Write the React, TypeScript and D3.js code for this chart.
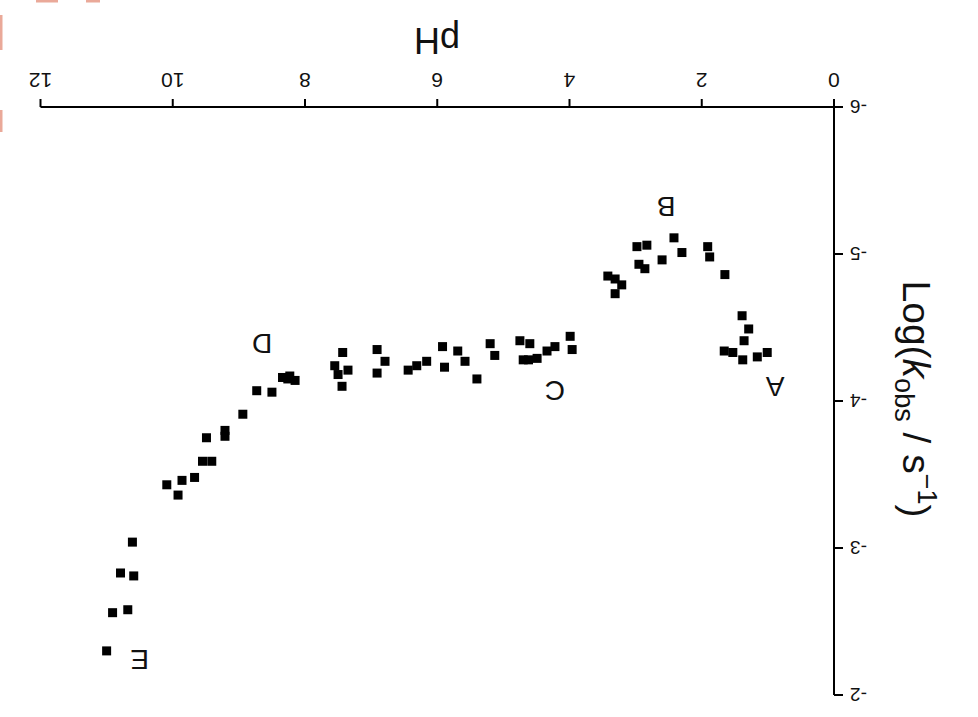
import React from "react";
import * as d3 from "d3";

const phValues = [
  2.42, 2.98, 2.83, 2.30, 2.60, 1.91, 1.88, 1.65, 2.95, 2.86, 3.42, 3.31, 3.21, 3.31,
  1.39, 1.29, 1.36, 1.66, 1.53, 1.38, 1.16, 1.01,
  8.73, 8.50, 8.34, 8.23, 8.15, 8.26, 7.55, 7.43, 7.35, 7.44, 6.91, 6.79, 6.91,
  6.44, 6.31, 6.16, 5.92, 5.69, 5.58, 5.89, 5.40, 5.20, 5.13, 4.75, 4.60, 4.70,
  4.49, 4.34, 4.22, 3.99, 3.96, 4.62, 7.50,
  8.94, 9.21, 9.21, 9.49, 9.55, 9.41, 9.67, 10.09, 9.86, 9.92,
  10.61, 10.79, 10.59, 10.91, 10.68, 11.00,
];
const logkValues = [
  -5.11, -5.05, -5.06, -5.01, -4.96, -5.05, -4.98, -4.86, -4.93, -4.90, -4.85, -4.83, -4.79, -4.73,
  -4.58, -4.49, -4.41, -4.34, -4.33, -4.28, -4.30, -4.33,
  -4.07, -4.06, -4.16, -4.17, -4.14, -4.15, -4.24, -4.33, -4.21, -4.10, -4.35, -4.27, -4.19,
  -4.21, -4.24, -4.27, -4.37, -4.34, -4.27, -4.23, -4.15, -4.39, -4.31, -4.41, -4.39, -4.28,
  -4.29, -4.34, -4.37, -4.44, -4.35, -4.28, -4.18,
  -3.91, -3.80, -3.76, -3.75, -3.59, -3.59, -3.48, -3.43, -3.46, -3.36,
  -3.04, -2.83, -2.81, -2.56, -2.58, -2.30,
];

const regionLabels = ["A", "B", "C", "D", "E"];
const regionPh = [0.89, 2.54, 4.22, 8.65, 10.5];
const regionLogk = [-4.1, -5.32, -4.07, -4.39, -2.24];

const xTicks = [0, 2, 4, 6, 8, 10, 12];
const yTicks = [-6, -5, -4, -3, -2];

const W = 978;
const H = 717;

export default function App() {
  const x = d3.scaleLinear().domain([0, 12]).range([W - 834, W - 40.5]);
  const y = d3.scaleLinear().domain([-6, -2]).range([H - 107, H - 695]);
  const axisY = y(-6);
  const axisX = x(0);
  const font = "'Liberation Sans', Arial, sans-serif";
  const ms = 9;

  return (
    <svg
      width={W}
      height={H}
      style={{ position: "absolute", left: 0, top: 0, background: "#fff" }}
      fontFamily={font}
    >
      <rect x={0} y={0} width={W} height={H} fill="#fff" />
      {/* faint red remnants at top-left */}
      <rect x={0} y={15} width={2.5} height={35} fill="#eaa999" />
      <rect x={0} y={110} width={2.5} height={22} fill="#eaa999" />
      <rect x={36} y={0} width={22} height={2.5} fill="#eaa999" />
      <rect x={86} y={0} width={14} height={2.5} fill="#eaa999" />
      <g transform={`rotate(180 ${W / 2} ${H / 2})`}>
        {/* x axis */}
        <line x1={x(0)} x2={x(12)} y1={axisY} y2={axisY} stroke="#000" strokeWidth={2} />
        {xTicks.map((t) => (
          <g key={"xt" + t} transform={`translate(${x(t)},${axisY})`}>
            <line y1={0} y2={8} stroke="#000" strokeWidth={2} />
            <text y={19} dy="0.71em" textAnchor="middle" fontSize={21} fill="#111">
              {t}
            </text>
          </g>
        ))}
        {/* y axis */}
        <line x1={axisX} x2={axisX} y1={y(-6)} y2={y(-2)} stroke="#000" strokeWidth={2} />
        {yTicks.map((t) => (
          <g key={"yt" + t} transform={`translate(${axisX},${y(t)})`}>
            <line x1={0} x2={-9} stroke="#000" strokeWidth={2} />
            <text x={-16} dy="0.35em" textAnchor="end" fontSize={19} fill="#111">
              {t}
            </text>
          </g>
        ))}
        {/* axis titles */}
        <text x={W - 437} y={H - 40} textAnchor="middle" dominantBaseline="central" fontSize={36} fill="#111">
          pH
        </text>
        <text
          transform={`translate(${W - 903},${H - 399}) rotate(-90)`}
          textAnchor="middle"
          fontSize={39}
          fill="#111"
        >
          Log(<tspan fontStyle="italic">k</tspan>
          <tspan fontSize={27} dy={8}>obs</tspan>
          <tspan dy={-8}> / s</tspan>
          <tspan fontSize={27} dy={-15}>−1</tspan>
          <tspan dy={15}>)</tspan>
        </text>
        {/* points */}
        {phValues.map((p, i) => (
          <rect
            key={"p" + i}
            x={x(p) - ms / 2}
            y={y(logkValues[i]) - ms / 2}
            width={ms}
            height={ms}
            fill="#000"
          />
        ))}
        {/* region labels */}
        {regionLabels.map((l, i) => (
          <text
            key={"l" + l}
            x={x(regionPh[i])}
            y={y(regionLogk[i])}
            textAnchor="middle"
            dominantBaseline="central"
            fontSize={28}
            fill="#111"
          >
            {l}
          </text>
        ))}
      </g>
    </svg>
  );
}
